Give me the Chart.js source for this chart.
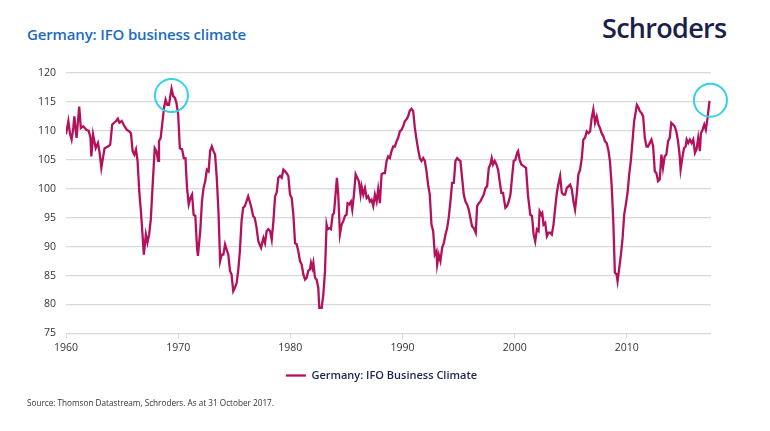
<!DOCTYPE html>
<html>
<head>
<meta charset="utf-8">
<script src="https://cdn.jsdelivr.net/npm/chart.js@4.4.1/dist/chart.umd.min.js"></script>
<style>
    html, body { margin: 0; padding: 0; background: #fff; }
    #wrap { position: relative; width: 770px; height: 431px; overflow: hidden; }
    #chartBox { position: absolute; left: 0; top: 0; width: 770px; height: 431px; }
    .title { position: absolute; left: 27px; top: 27px; font: 600 15px "Open Sans", sans-serif; color: #1c6cc0; line-height: 1; letter-spacing: -0.15px; }
    .logo { position: absolute; left: 602px; top: 14px; font: 600 27px "Open Sans", sans-serif; color: #1b1f4c; line-height: 1; letter-spacing: -0.7px; }
    .source { position: absolute; left: 27px; top: 399px; font: 8.2px "Open Sans", sans-serif; color: #333; line-height: 1; }
</style>
</head>
<body>
<div id="wrap">
    <div class="title">Germany: IFO business climate</div>
    <div class="logo">Schroders</div>
    <div id="chartBox"><canvas id="ifoChart"></canvas></div>
    <div class="source">Source: Thomson Datastream, Schroders. As at 31 October 2017.</div>
</div>
<script>
// Colours
const colors = {
    line: "#b3115b",
    grid: "#d9d9d9",
    tick: "#333333",
    legend: "#1b2452",
    circle: "#33d3e2",
};

// Dates as decimal years
const dates = [
    1960.00, 1960.21, 1960.35, 1960.50, 1960.65, 1960.74, 1960.94, 1961.18, 1961.32, 1961.53,
    1961.82, 1962.03, 1962.18, 1962.26, 1962.41, 1962.65, 1962.85, 1963.00, 1963.15, 1963.29,
    1963.44, 1963.74, 1963.94, 1964.12, 1964.47, 1964.62, 1964.76, 1964.97, 1965.21, 1965.41,
    1965.65, 1965.79, 1965.94, 1966.09, 1966.24, 1966.38, 1966.53, 1966.68, 1966.82, 1966.94,
    1967.12, 1967.26, 1967.41, 1967.56, 1967.71, 1967.91, 1968.06, 1968.21, 1968.29, 1968.44,
    1968.59, 1968.74, 1968.88, 1969.03, 1969.18, 1969.32, 1969.41, 1969.56, 1969.71, 1969.85,
    1970.00, 1970.15, 1970.35, 1970.50, 1970.65, 1970.79, 1970.94, 1971.09, 1971.24, 1971.38,
    1971.53, 1971.68, 1971.76, 1971.97, 1972.12, 1972.26, 1972.41, 1972.56, 1972.71, 1972.85,
    1973.00, 1973.15, 1973.29, 1973.44, 1973.59, 1973.74, 1973.88, 1974.03, 1974.18, 1974.32,
    1974.47, 1974.62, 1974.76, 1974.91, 1975.06, 1975.21, 1975.35, 1975.50, 1975.65, 1975.79,
    1975.94, 1976.09, 1976.24, 1976.38, 1976.53, 1976.68, 1976.82, 1976.97,
    1977.15, 1977.39, 1977.60, 1977.74, 1977.89, 1978.04, 1978.19, 1978.34, 1978.49, 1978.64,
    1978.78, 1978.93, 1979.08, 1979.23, 1979.38, 1979.53, 1979.67, 1979.82, 1979.97, 1980.12,
    1980.27, 1980.42, 1980.56, 1980.71, 1980.86, 1981.01, 1981.16, 1981.31, 1981.45, 1981.60,
    1981.75, 1981.84, 1981.96, 1982.05, 1982.20, 1982.34, 1982.49, 1982.58, 1982.79, 1982.94,
    1983.09, 1983.23, 1983.32, 1983.47, 1983.62, 1983.77, 1983.89, 1984.04, 1984.15, 1984.27,
    1984.42, 1984.57, 1984.72, 1984.87, 1985.01, 1985.10, 1985.25, 1985.40, 1985.52, 1985.67,
    1985.82, 1985.96, 1986.11, 1986.26, 1986.35, 1986.50, 1986.65, 1986.80, 1986.94, 1987.09,
    1987.24, 1987.39, 1987.54, 1987.69, 1987.83, 1987.98, 1988.13, 1988.28, 1988.43, 1988.58,
    1988.72, 1988.87, 1989.02, 1989.17, 1989.32, 1989.47, 1989.61, 1989.76, 1989.91, 1990.06,
    1990.21, 1990.36, 1990.50, 1990.65, 1990.80, 1990.95, 1991.10, 1991.25, 1991.39, 1991.54,
    1991.69, 1991.84, 1991.99, 1992.14, 1992.28, 1992.43, 1992.58, 1992.73, 1992.88, 1993.03,
    1993.09, 1993.23, 1993.38, 1993.53, 1993.68, 1993.83, 1993.98, 1994.12, 1994.27, 1994.42,
    1994.57, 1994.72, 1994.87, 1995.01, 1995.16, 1995.31, 1995.46, 1995.61, 1995.76, 1995.90,
    1996.05, 1996.20, 1996.35, 1996.53, 1996.65, 1996.80, 1996.94, 1997.09, 1997.24, 1997.39,
    1997.54, 1997.69, 1997.83, 1997.95, 1998.07, 1998.22, 1998.37, 1998.52, 1998.66, 1998.81,
    1998.96, 1999.17, 1999.32, 1999.47, 1999.62, 1999.76, 1999.91, 2000.06, 2000.21, 2000.30,
    2000.44, 2000.59, 2000.80, 2001.01, 2001.18, 2001.39, 2001.54, 2001.69, 2001.83, 2001.98,
    2002.13, 2002.22, 2002.37, 2002.46, 2002.57, 2002.72, 2002.87, 2003.02, 2003.17, 2003.31,
    2003.46, 2003.61, 2003.76, 2003.91, 2004.05, 2004.20, 2004.35, 2004.50, 2004.64, 2004.79,
    2004.94, 2005.09, 2005.24, 2005.38, 2005.53, 2005.68, 2005.83, 2005.98, 2006.12, 2006.27,
    2006.42, 2006.57, 2006.72, 2006.86, 2007.01, 2007.16, 2007.31, 2007.46, 2007.60, 2007.75,
    2007.90, 2008.05, 2008.20, 2008.34, 2008.49, 2008.64, 2008.79, 2008.93, 2009.08, 2009.17,
    2009.32, 2009.47, 2009.62, 2009.76, 2009.91, 2010.06, 2010.21, 2010.36, 2010.50, 2010.65,
    2010.80, 2010.89, 2011.04, 2011.15, 2011.30, 2011.45, 2011.60, 2011.75, 2011.89, 2012.04,
    2012.19, 2012.34, 2012.49, 2012.63, 2012.78, 2012.93, 2013.08, 2013.22, 2013.37, 2013.52,
    2013.67, 2013.82, 2013.96, 2014.11, 2014.26, 2014.41, 2014.56, 2014.70, 2014.79, 2014.94,
    2015.09, 2015.24, 2015.33, 2015.47, 2015.62, 2015.77, 2015.92, 2016.07, 2016.21, 2016.36,
    2016.51, 2016.60, 2016.75, 2016.90, 2017.04, 2017.19, 2017.37,
];

// IFO business climate index
const ifo = [
    109.4, 111.7, 109.6, 108.5, 110.5, 112.5, 108.8, 114.2, 110.5, 110.8,
    110.2, 110.0, 108.8, 105.6, 109.4, 107.0, 107.9, 106.2, 103.6, 105.3,
    107.0, 107.3, 107.6, 111.1, 111.7, 112.1, 111.4, 111.7, 110.8, 110.2,
    109.9, 109.6, 106.5, 105.9, 106.8, 104.8, 99.6, 96.1, 92.1, 88.6,
    92.1, 90.7, 92.1, 94.7, 100.1, 107.0, 106.5, 104.8, 108.2, 108.8,
    111.4, 114.0, 115.4, 114.5, 114.5, 116.3, 117.3, 116.0, 115.7, 114.8,
    112.8, 107.0, 106.8, 105.3, 105.3, 100.1, 97.3, 98.4, 99.0, 95.5,
    95.3, 89.8, 88.4, 92.7, 97.8, 100.1, 101.3, 103.3, 103.0, 106.5,
    107.3, 106.5, 105.9, 101.9, 96.1, 87.5, 88.6, 88.6, 90.4, 89.5,
    88.6, 85.8, 85.2, 82.3, 82.9, 83.7, 85.8, 89.2, 94.4, 96.7,
    97.0, 97.8, 98.7, 97.8, 96.7, 95.3, 95.0, 93.5,
    90.9, 89.8, 91.5, 90.6, 92.7, 93.0, 92.7, 91.2, 94.4, 98.7,
    99.3, 101.9, 102.2, 101.9, 103.3, 103.0, 102.7, 102.2, 99.0, 98.4,
    95.5, 90.6, 90.4, 89.2, 87.5, 86.9, 85.2, 84.3, 84.6, 85.8,
    86.1, 87.2, 86.3, 87.2, 84.6, 84.3, 82.9, 79.4, 79.4, 81.7,
    85.8, 93.8, 93.0, 93.2, 93.0, 95.5, 95.8, 99.3, 101.9, 99.0,
    92.1, 93.8, 94.4, 95.3, 95.5, 97.5, 97.3, 97.8, 96.4, 99.0,
    102.5, 101.9, 101.3, 99.0, 100.4, 99.0, 100.1, 98.4, 98.7, 97.8,
    98.1, 97.0, 99.0, 97.8, 99.9, 97.5, 102.5, 102.7, 102.7, 104.8,
    105.6, 105.3, 106.5, 107.3, 107.3, 108.2, 108.8, 109.9, 110.2, 110.8,
    111.7, 112.0, 112.5, 113.5, 113.8, 113.4, 110.5, 108.5, 106.8, 105.3,
    104.8, 105.3, 104.8, 103.0, 100.7, 99.0, 93.8, 92.7, 88.6, 89.2,
    86.9, 88.6, 87.5, 89.8, 90.6, 92.1, 93.2, 95.0, 97.8, 101.0,
    101.0, 104.8, 105.3, 105.0, 104.8, 101.9, 99.0, 97.8, 97.3, 96.4,
    95.0, 93.5, 93.2, 92.4, 97.0, 97.5, 97.8, 98.4, 99.0, 100.1,
    100.4, 103.6, 104.2, 105.3, 104.2, 104.8, 104.2, 103.3, 101.3, 99.3,
    99.3, 96.7, 97.0, 97.8, 99.0, 101.9, 104.8, 105.0, 106.2, 106.5,
    105.0, 104.2, 103.9, 103.6, 99.0, 95.5, 95.3, 92.1, 90.9, 93.0,
    92.7, 96.1, 95.5, 95.8, 93.8, 94.1, 91.8, 92.4, 92.4, 92.1,
    93.8, 96.7, 99.3, 101.0, 102.2, 99.3, 99.0, 99.0, 100.1, 100.4,
    100.7, 99.9, 97.8, 96.4, 99.0, 102.5, 103.3, 105.3, 108.5, 108.8,
    109.9, 109.6, 109.9, 112.2, 113.7, 111.4, 112.5, 111.1, 110.5, 109.6,
    109.1, 108.2, 107.9, 106.8, 104.8, 100.7, 94.4, 85.5, 85.2, 84.0,
    86.3, 88.6, 91.5, 95.5, 97.3, 99.3, 102.5, 105.0, 108.2, 111.7,
    113.4, 114.5, 114.0, 113.4, 113.1, 112.5, 108.8, 107.3, 107.3, 107.9,
    108.5, 107.3, 103.0, 102.7, 101.3, 101.6, 105.9, 103.6, 105.6, 105.9,
    108.2, 108.8, 111.4, 111.1, 110.8, 109.9, 108.2, 105.9, 103.3, 105.3,
    107.0, 107.3, 108.5, 107.9, 108.5, 107.9, 108.5, 106.2, 106.8, 108.8,
    106.5, 109.6, 110.2, 111.1, 110.2, 112.2, 115.2,
];

// Axis ticks
const xTicks = [1960, 1970, 1980, 1990, 2000, 2010];
const yTicks = [75, 80, 85, 90, 95, 100, 105, 110, 115, 120];

// Highlight circles (peaks), in data units
const circleX = [1969.4, 2017.45];
const circleY = [116.1, 115.3];

const circlesPlugin = {
    id: "circles",
    afterDatasetsDraw(chart) {
        const { ctx, scales } = chart;
        ctx.save();
        ctx.strokeStyle = colors.circle;
        ctx.lineWidth = 2;
        for (let i = 0; i < circleX.length; i++) {
            ctx.beginPath();
            ctx.arc(scales.x.getPixelForValue(circleX[i]), scales.y.getPixelForValue(circleY[i]), 16.5, 0, Math.PI * 2);
            ctx.stroke();
        }
        ctx.restore();
    },
};

// centre the legend on the page rather than on the plot
const legendShift = {
    id: "legendShift",
    afterLayout(chart) {
        if (chart.legend) {
            chart.legend.left += 26;
            chart.legend.right += 26;
        }
    },
};

const points = dates.map((d, i) => ({ x: d, y: ifo[i] }));

new Chart(document.getElementById("ifoChart").getContext("2d"), {
    type: "line",
    data: {
        datasets: [
            {
                label: "Germany: IFO Business Climate",
                data: points,
                borderColor: colors.line,
                backgroundColor: colors.line,
                borderWidth: 2.3,
                pointRadius: 0,
                tension: 0,
            },
        ],
    },
    options: {
        responsive: true,
        maintainAspectRatio: false,
        animation: false,
        layout: {
            padding: { left: 0, right: 59, top: 73, bottom: 40 },
        },
        plugins: {
            tooltip: { enabled: false },
            legend: {
                position: "bottom",
                labels: {
                    usePointStyle: true,
                    pointStyle: "line",
                    pointStyleWidth: 20,
                    padding: 13,
                    color: colors.legend,
                    font: { family: "Open Sans", size: 11, weight: "600" },
                },
            },
        },
        scales: {
            x: {
                type: "linear",
                min: 1960,
                max: 2017.5,
                afterBuildTicks: (scale) => {
                    scale.ticks = xTicks.map((v) => ({ value: v }));
                },
                grid: {
                    drawOnChartArea: false,
                    drawTicks: true,
                    tickLength: 5,
                    color: colors.grid,
                },
                border: { display: false },
                ticks: {
                    color: colors.tick,
                    padding: 3,
                    maxRotation: 0,
                    font: { family: "Open Sans", size: 10.5 },
                    callback: (v) => String(v),
                },
            },
            y: {
                min: 75,
                max: 120,
                afterBuildTicks: (scale) => {
                    scale.ticks = yTicks.map((v) => ({ value: v }));
                },
                afterFit: (scale) => {
                    scale.width = 66;
                },
                grid: {
                    color: colors.grid,
                    lineWidth: 1.2,
                    drawTicks: false,
                },
                border: { display: false },
                ticks: {
                    color: colors.tick,
                    padding: 10,
                    font: { family: "Open Sans", size: 10.5 },
                },
            },
        },
    },
    plugins: [circlesPlugin, legendShift],
});
</script>
</body>
</html>
